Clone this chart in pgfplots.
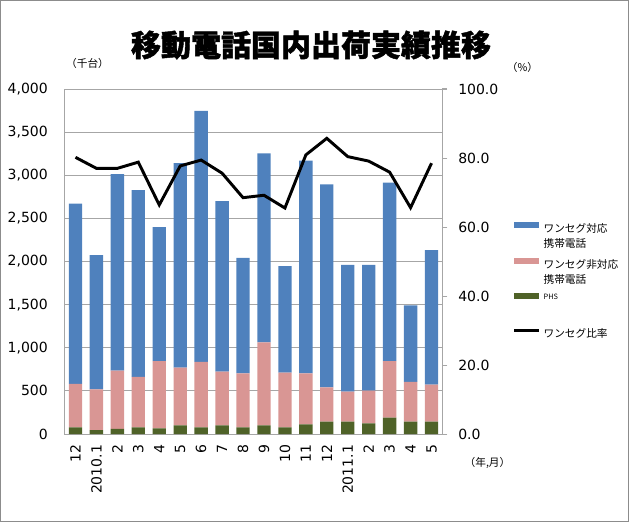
\documentclass[border=0pt]{standalone}
\usepackage{fontspec}
\setmainfont{DejaVu Sans}
\newfontfamily\cjk{Noto Sans CJK JP}
\newfontfamily\cjkt{Noto Sans CJK JP}[BoldFeatures={FakeBold=1.5}]
\usepackage{pgfplots}
\usepackage{pgfplotstable}
\pgfplotsset{compat=1.18}
\definecolor{oneseg}{HTML}{4F81BD}
\definecolor{nonseg}{HTML}{D99694}
\definecolor{phs}{HTML}{4F6228}
\definecolor{gridgray}{HTML}{A6A6A6}
\definecolor{framegray}{HTML}{8C8C8C}

% shipments (thousand units) and one-seg ratio (%)
\pgfplotstableread{
x  phs non  one  ratio
0  77  503  2090 80.2
1  46  472  1557 77.0
2  58  676  2280 77.0
3  77  584  2168 78.8
4  66  780  1554 66.4
5  100 669  2373 77.7
6  77  758  2910 79.4
7  100 623  1978 75.6
8  77  626  1338 68.5
9  100 963  2192 69.2
10 77  634  1234 65.5
11 112 591  2466 80.9
12 143 398  2354 85.7
13 143 348  1469 80.4
14 124 378  1458 79.1
15 189 657  2069 75.9
16 143 460  887  65.6
17 143 429  1561 78.5
}\ship

\newcommand\lent[1]{\parbox[c][26.25pt][t]{62pt}{#1}}

\begin{document}
\begin{tikzpicture}
\pgfplotsset{
  base/.style={
    scale only axis, width=282.75pt, height=258.75pt,
    xmin=-0.5, xmax=17.5,
    axis line style={gridgray, line width=0.75pt},
    tick label style={font=\fontsize{10.5}{12}\selectfont},
    /pgf/number format/assume math mode=true,
  }
}
\begin{axis}[base,
  ybar stacked, bar width=10pt,
  ymin=0, ymax=4000, ytick distance=500,
  ymajorgrids, grid style={gridgray, line width=0.75pt},
  xtick={0,...,17},
  xticklabels={12,2010.1,2,3,4,5,6,7,8,9,10,11,12,2011.1,2,3,4,5},
  xtick style={draw=none}, ytick style={draw=none},
  x tick label style={rotate=90, anchor=east, inner sep=0pt},
  xticklabel shift=8pt,
  y tick label style={anchor=east, inner sep=0pt,
    /pgf/number format/1000 sep={,}},
  yticklabel shift=12.75pt,
  reverse legend,
  legend cell align=left,
  legend style={at={(rel axis cs:1.1875,0.614)}, anchor=north west,
    draw=none, fill=none, inner sep=0pt, row sep=9pt,
    font=\cjk\fontsize{8}{11.5}\selectfont,
    nodes={inner sep=0pt},
    /tikz/every odd column/.append style={column sep=2.5pt}},
]
\addlegendimage{legend image code/.code={\draw[black, line width=2pt] (0pt,7pt) -- (18.5pt,7pt);}}
\addlegendentry{\lent{ワンセグ比率}}
\addplot[fill=phs, draw=none,
  legend image code/.code={\fill[phs] (0pt,4.75pt) rectangle (18.5pt,9.25pt);}]
  table[x=x, y=phs] {\ship};
\addlegendentry{\lent{\raisebox{3pt}{\fontsize{5.5}{7}\selectfont PHS}}}
\addplot[fill=nonseg, draw=none,
  legend image code/.code={\fill[nonseg] (0pt,4.75pt) rectangle (18.5pt,9.25pt);}]
  table[x=x, y=non] {\ship};
\addlegendentry{\lent{ワンセグ非対応\\携帯電話}}
\addplot[fill=oneseg, draw=none,
  legend image code/.code={\fill[oneseg] (0pt,4.75pt) rectangle (18.5pt,9.25pt);}]
  table[x=x, y=one] {\ship};
\addlegendentry{\lent{ワンセグ対応\\携帯電話}}
\end{axis}
\begin{axis}[base,
  axis y line*=right, axis x line=none,
  ymin=0, ymax=100, ytick distance=20,
  tick align=outside, major tick length=4pt,
  ytick style={gridgray, line width=0.75pt},
  y tick label style={anchor=west, inner sep=0pt,
    /pgf/number format/.cd, fixed, fixed zerofill, precision=1},
  yticklabel shift=8pt,
]
\addplot[black, line width=2.2pt] table[x=x, y=ratio] {\ship};
\end{axis}
\begin{scope}[x=0.75pt, y=0.75pt]
\path[use as bounding box] (-65,-88) rectangle (564,434);
\draw[framegray, line width=0.75pt] (-64.5,-87.5) rectangle (563.5,433.5);
\node[font=\cjkt\bfseries\fontsize{22.5}{24}\selectfont] at (246,389) {移動電話国内出荷実績推移};
\node[font=\cjk\fontsize{8}{10}\selectfont] at (22.5,371) {（千台）};
\node[font=\cjk\fontsize{8}{10}\selectfont] at (457.5,367) {（\%）};
\node[font=\cjk\fontsize{8}{10}\selectfont] at (422.5,-29) {（年,月）};
\end{scope}
\end{tikzpicture}
\end{document}
